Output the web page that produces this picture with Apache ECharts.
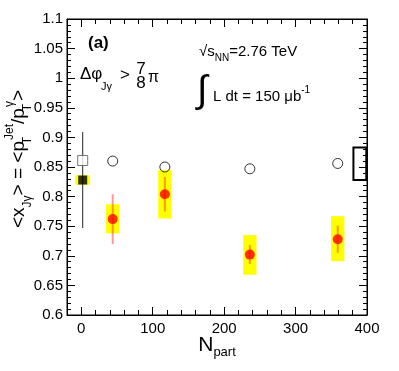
<!DOCTYPE html>
<html>
<head>
<meta charset="utf-8">
<script src="https://cdn.jsdelivr.net/npm/echarts@6/dist/echarts.min.js"></script>
<style>
  html, body { margin: 0; background: #fff; }
  #chart { width: 399px; height: 371px; }
</style>
</head>
<body>
<div id="chart"></div>
<script>
// Pb+Pb points (red) with stat error and systematic box (yellow)
const npart = [44, 117, 236, 359];
const xjgPbPb = [0.762, 0.804, 0.702, 0.728];
const statErr = [0.042, 0.029, 0.016, 0.023];
const sysLo = [0.738, 0.763, 0.668, 0.691];
const sysHi = [0.787, 0.845, 0.735, 0.767];
// open circles
const xjgRef = [0.86, 0.85, 0.847, 0.856];
// pp point (black square) and its open square
const ppNpart = [2];
const xjgPp = [0.828];
const ppStatLo = [0.747];
const ppStatHi = [0.909];
const ppSysLo = [0.82];
const ppSysHi = [0.836];
const xjgPpRef = [0.861];
// black systematic box at the right edge: [npart from, npart to, lo, hi]
const refSysBox = [381, 399, 0.828, 0.883];
const xMajorTicks = [0, 100, 200, 300, 400];

const FONT = "'Liberation Sans', Arial, Helvetica, sans-serif";

const chart = echarts.init(document.getElementById("chart"));

function boxRender(halfW, fill, stroke, lineWidth) {
  return function (params, api) {
    const x = api.value(0);
    const p1 = api.coord([x - halfW, api.value(2)]);
    const p2 = api.coord([x + halfW, api.value(1)]);
    return {
      type: "rect",
      shape: { x: p1[0], y: p1[1], width: p2[0] - p1[0], height: p2[1] - p1[1] },
      style: { fill: fill, stroke: stroke, lineWidth: lineWidth },
    };
  };
}

function errRender(color, width) {
  return function (params, api) {
    const x = api.value(0);
    const a = api.coord([x, api.value(1)]);
    const b = api.coord([x, api.value(2)]);
    return {
      type: "line",
      shape: { x1: a[0], y1: a[1], x2: b[0], y2: b[1] },
      style: { stroke: color, lineWidth: width },
    };
  };
}

function xAx(position, ticks, len, showLine, showLabel) {
  const ax = {
    type: "value",
    position: position,
    min: -20,
    max: 400,
    axisLine: { show: showLine, onZero: false, lineStyle: { color: "#000", width: 1 } },
    axisTick: { show: true, inside: true, length: len, lineStyle: { color: "#000" } },
    axisLabel: { show: false },
    splitLine: { show: false },
  };
  if (ticks) {
    ax.axisTick.customValues = ticks;
  } else {
    ax.interval = 20;
  }
  if (showLabel) {
    ax.axisLabel = {
      show: true,
      color: "#000",
      fontSize: 15,
      fontFamily: FONT,
      margin: 6,
      formatter: function (v) { return v % 100 === 0 ? String(v) : ""; },
    };
  }
  return ax;
}

function yAx(position, showLabel) {
  return {
    type: "value",
    position: position,
    min: 0.6,
    max: 1.1,
    interval: 0.05,
    axisLine: { show: true, onZero: false, lineStyle: { color: "#000", width: 1 } },
    axisTick: { show: true, inside: true, length: 8, lineStyle: { color: "#000" } },
    minorTick: { show: true, splitNumber: 5, length: 4, lineStyle: { color: "#000" } },
    axisLabel: showLabel
      ? { show: true, color: "#000", fontSize: 15, fontFamily: FONT, margin: 4 }
      : { show: false },
    splitLine: { show: false },
    minorSplitLine: { show: false },
  };
}

const xBottom = xAx("bottom", null, 5, true, true);
xBottom.name = "{n|N}{s|part}";
xBottom.nameLocation = "middle";
xBottom.nameGap = 16;
xBottom.nameMoveOverlap = false;
xBottom.nameTextStyle = {
  rich: {
    n: { fontSize: 21, fontFamily: FONT, color: "#000", lineHeight: 28, verticalAlign: "middle" },
    s: { fontSize: 13, fontFamily: FONT, color: "#000", verticalAlign: "bottom" },
  },
};

chart.setOption({
  animation: false,
  grid: {
    left: 67, top: 19, right: 32, bottom: 56,
    show: true, borderColor: "#000", borderWidth: 1, backgroundColor: "transparent",
    containLabel: false, outerBoundsMode: "none",
  },
  xAxis: [
    xBottom,
    xAx("top", null, 5, true, false),
    xAx("bottom", xMajorTicks, 8, false, false),
    xAx("top", xMajorTicks, 8, false, false),
  ],
  yAxis: [yAx("left", true), yAx("right", false)],
  graphic: [
    { type: "text", x: 88, y: 43, style: { text: "(a)", font: "bold 17px " + FONT, fill: "#000", verticalAlign: "middle" } },
    { type: "text", x: 80, y: 74.5, style: { text: "Δφ", fontSize: 17, fontFamily: FONT, fill: "#000", verticalAlign: "middle" } },
    { type: "text", x: 101, y: 87, style: { text: "Jγ", fontSize: 11, fontFamily: FONT, fill: "#000", verticalAlign: "middle" } },
    { type: "text", x: 120, y: 75, style: { text: ">", fontSize: 17, fontFamily: FONT, fill: "#000", verticalAlign: "middle" } },
    { type: "text", x: 141, y: 69, style: { text: "7", fontSize: 17, fontFamily: FONT, fill: "#000", align: "center", verticalAlign: "middle" } },
    { type: "text", x: 141, y: 83, style: { text: "8", fontSize: 17, fontFamily: FONT, fill: "#000", align: "center", verticalAlign: "middle" } },
    { type: "text", x: 148, y: 78, style: { text: "π", fontSize: 16, fontFamily: FONT, fill: "#000", verticalAlign: "middle" } },
    {
      type: "text", x: 199, y: 52,
      style: {
        text: "{r|√}{m|s}{s|NN}{m|=2.76 TeV}",
        verticalAlign: "middle",
        rich: {
          r: { fontSize: 15, fontFamily: FONT, fill: "#000", lineHeight: 22, verticalAlign: "middle" },
          m: { fontSize: 15, fontFamily: FONT, fill: "#000", lineHeight: 22, verticalAlign: "middle" },
          s: { fontSize: 10, fontFamily: FONT, fill: "#000", verticalAlign: "bottom" },
        },
      },
    },
    { type: "text", x: 197, y: 92, style: { text: "∫", fontSize: 38, fontFamily: FONT, fill: "#000", verticalAlign: "middle" } },
    {
      type: "text", x: 213, y: 97,
      style: {
        text: "{m|L dt = 150 μb}{t|-1}",
        verticalAlign: "middle",
        rich: {
          m: { fontSize: 15, fontFamily: FONT, fill: "#000", lineHeight: 24, verticalAlign: "middle" },
          t: { fontSize: 10, fontFamily: FONT, fill: "#000", verticalAlign: "top" },
        },
      },
    },
    {
      type: "text", x: 19, y: 159, rotation: Math.PI / 2,
      style: {
        text: "{m|<x}{b|Jγ}{m|> = <p}{bn|T}{t|Jet}{m|/p}{bn|T}{t|γ}{m|>}",
        align: "center",
        verticalAlign: "middle",
        rich: {
          m: { fontSize: 19, fontFamily: FONT, fill: "#000", lineHeight: 30, verticalAlign: "middle" },
          b: { fontSize: 12, fontFamily: FONT, fill: "#000", verticalAlign: "bottom" },
          bn: { fontSize: 12, fontFamily: FONT, fill: "#000", verticalAlign: "bottom", width: 1 },
          t: { fontSize: 12, fontFamily: FONT, fill: "#000", verticalAlign: "top" },
        },
      },
    },
  ],
  series: [
    {
      type: "custom",
      renderItem: boxRender(9.3, "#ffff00", null, 0),
      data: npart.map(function (n, i) { return [n, sysLo[i], sysHi[i]]; }),
    },
    {
      type: "custom",
      renderItem: boxRender(10.3, "#ffff00", null, 0),
      data: ppNpart.map(function (n, i) { return [n, ppSysLo[i], ppSysHi[i]]; }),
    },
    {
      type: "custom",
      renderItem: function (params, api) {
        const p1 = api.coord([api.value(0), api.value(3)]);
        const p2 = api.coord([api.value(1), api.value(2)]);
        return {
          type: "rect",
          shape: { x: p1[0], y: p1[1], width: p2[0] - p1[0], height: p2[1] - p1[1] },
          style: { fill: "none", stroke: "#000", lineWidth: 2 },
        };
      },
      data: [refSysBox],
    },
    {
      type: "custom",
      renderItem: errRender("rgba(255,0,0,0.4)", 2),
      data: npart.map(function (n, i) { return [n, xjgPbPb[i] - statErr[i], xjgPbPb[i] + statErr[i]]; }),
    },
    {
      type: "custom",
      renderItem: errRender("#222", 1),
      data: ppNpart.map(function (n, i) { return [n, ppStatLo[i], ppStatHi[i]]; }),
    },
    {
      type: "scatter",
      symbol: "circle",
      symbolSize: 10,
      itemStyle: { color: "rgba(0,0,0,0)", borderColor: "#000", borderWidth: 1 },
      data: npart.map(function (n, i) { return [n, xjgRef[i]]; }),
    },
    {
      type: "scatter",
      symbol: "rect",
      symbolSize: 10,
      itemStyle: { color: "#fff", borderColor: "#555", borderWidth: 1 },
      data: ppNpart.map(function (n, i) { return [n, xjgPpRef[i]]; }),
    },
    {
      type: "scatter",
      symbol: "rect",
      symbolSize: 9,
      itemStyle: { color: "#000" },
      data: ppNpart.map(function (n, i) { return [n, xjgPp[i]]; }),
    },
    {
      type: "scatter",
      symbol: "circle",
      symbolSize: 10,
      itemStyle: { color: "#ff0000" },
      data: npart.map(function (n, i) { return [n, xjgPbPb[i]]; }),
    },
  ],
});
</script>
</body>
</html>
